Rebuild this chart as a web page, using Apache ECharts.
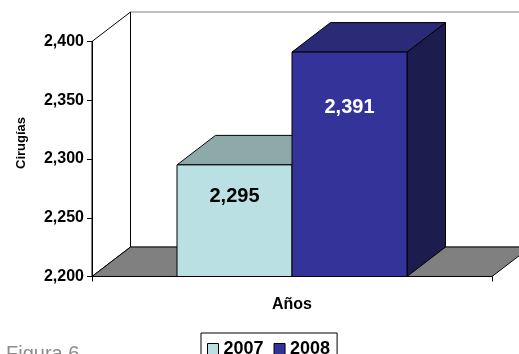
<!DOCTYPE html>
<html>
<head>
<meta charset="utf-8">
<title>Cirugías por año</title>
<script src="https://cdn.jsdelivr.net/npm/echarts@6/dist/echarts.min.js"></script>
<style>
  html, body { margin: 0; padding: 0; background: #fff; }
  #chart { width: 519px; height: 354px; }
</style>
</head>
<body>
<div id="chart"></div>
<script>
// Single group on the "Años" axis; each year is its own series
const categories = ['Total'];
const years = ['2007', '2008'];
const surgeries2007 = [2295];
const surgeries2008 = [2391];

// Value axis range and tick step
const yMin = 2200;
const yMax = 2400;
const yStep = 50;

// Pseudo-3D depth offset (pixels) and bar width as share of the band
const DX = 38.5;
const DY = 29.5;
const BAR_SHARE = 0.2875;
const FONT = '"Liberation Sans", Arial, sans-serif';

const seriesLook = [
  { name: years[0], values: surgeries2007, front: '#BAE0E3', top: '#8EA9A9', side: '#6E8A8A', labelColor: '#000', labelDrop: 32 },
  { name: years[1], values: surgeries2008, front: '#333399', top: '#2A2A77', side: '#1C1C4E', labelColor: '#fff', labelDrop: 55 }
];

const fmt = v => Number(v).toLocaleString('en-US');

// Walls and floor of the box, derived from the grid rectangle
function renderFrame(params) {
  const cs = params.coordSys;
  const x0 = cs.x, x1 = cs.x + cs.width;
  const yT = cs.y, yB = cs.y + cs.height;
  return {
    type: 'group',
    children: [
      { type: 'polygon', shape: { points: [[x0 + DX, yT - DY], [x1 + DX + 60, yT - DY], [x1 + DX + 60, yB - DY], [x0 + DX, yB - DY]] },
        style: { fill: '#fff', stroke: '#808080', lineWidth: 1 } },
      { type: 'polygon', shape: { points: [[x0, yB], [x0 + DX, yB - DY], [x0 + DX, yT - DY], [x0, yT]] },
        style: { fill: '#fff', stroke: '#000', lineWidth: 1 } },
      { type: 'polygon', shape: { points: [[x0, yB], [x1, yB], [x1 + DX, yB - DY], [x0 + DX, yB - DY]] },
        style: { fill: '#808080', stroke: '#000', lineWidth: 1 } }
    ]
  };
}

// One 3D bar: front face, top face, right face and value label
function barRenderer(idx, look) {
  return function (params, api) {
    const cat = api.value(0);
    const val = api.value(1);
    const base = api.coord([cat, yMin]);
    const topPt = api.coord([cat, val]);
    const w = api.size([1, 0])[0] * BAR_SHARE;
    const xa = base[0] - w + idx * w;
    const xb = xa + w;
    const ya = topPt[1];
    const yb = base[1];
    const edge = { stroke: '#000', lineWidth: 1 };
    return {
      type: 'group',
      children: [
        { type: 'polygon', shape: { points: [[xb, ya], [xb + DX, ya - DY], [xb + DX, yb - DY], [xb, yb]] },
          style: Object.assign({ fill: look.side }, edge) },
        { type: 'polygon', shape: { points: [[xa, ya], [xa + DX, ya - DY], [xb + DX, ya - DY], [xb, ya]] },
          style: Object.assign({ fill: look.top }, edge) },
        { type: 'rect', shape: { x: xa, y: ya, width: w, height: yb - ya },
          style: Object.assign({ fill: look.front }, edge) },
        { type: 'text', x: (xa + xb) / 2, y: ya + look.labelDrop,
          style: { text: fmt(val), fill: look.labelColor, font: 'bold 20px ' + FONT, align: 'center', verticalAlign: 'middle' } }
      ]
    };
  };
}

const chart = echarts.init(document.getElementById('chart'), null, { renderer: 'canvas' });

const series = [{
  type: 'custom',
  name: 'frame',
  silent: true,
  z: 1,
  renderItem: renderFrame,
  data: [[0, yMin]],
  encode: { x: 0, y: 1 }
}].concat(seriesLook.map((look, i) => ({
  type: 'custom',
  name: look.name,
  z: 3 + i,
  renderItem: barRenderer(i, look),
  itemStyle: { color: look.front },
  data: look.values.map((v, k) => [k, v]),
  encode: { x: 0, y: 1 }
})));

chart.setOption({
  animation: false,
  backgroundColor: '#fff',
  grid: { left: 92, right: 27, top: 41.5, bottom: 77.5, containLabel: false },
  xAxis: {
    type: 'category',
    data: categories,
    boundaryGap: true,
    name: 'Años',
    nameLocation: 'middle',
    nameGap: 20,
    nameTextStyle: { fontFamily: FONT, fontWeight: 'bold', fontSize: 16, color: '#000' },
    axisLine: { show: true, lineStyle: { color: '#000', width: 1 } },
    axisTick: { show: true, length: 5, lineStyle: { color: '#000' } },
    axisLabel: { show: false },
    splitLine: { show: false },
    z: 10
  },
  yAxis: {
    type: 'value',
    min: yMin,
    max: yMax,
    interval: yStep,
    axisLine: { show: true, lineStyle: { color: '#000', width: 1 } },
    axisTick: { show: true, length: 5, lineStyle: { color: '#000' } },
    axisLabel: { formatter: fmt, fontFamily: FONT, fontWeight: 'bold', fontSize: 16, color: '#000', margin: 8 },
    splitLine: { show: false },
    z: 10
  },
  legend: {
    data: years,
    left: 201,
    top: 333,
    orient: 'horizontal',
    icon: 'rect',
    itemWidth: 11,
    itemHeight: 11,
    itemGap: 10,
    padding: [7, 7, 6, 6],
    borderColor: '#000',
    borderWidth: 1,
    backgroundColor: '#fff',
    itemStyle: { borderColor: '#000', borderWidth: 1 },
    textStyle: { fontFamily: FONT, fontWeight: 'bold', fontSize: 18, color: '#000' }
  },
  graphic: [
    { type: 'text', x: 21, y: 143, rotation: Math.PI / 2,
      style: { text: 'Cirugías', font: 'bold 13px ' + FONT, fill: '#000', align: 'center', verticalAlign: 'middle' } },
    { type: 'text', left: 6, top: 344,
      style: { text: 'Figura 6', font: '20px ' + FONT, fill: '#8C8C8C' } }
  ],
  series: series
});
</script>
</body>
</html>
